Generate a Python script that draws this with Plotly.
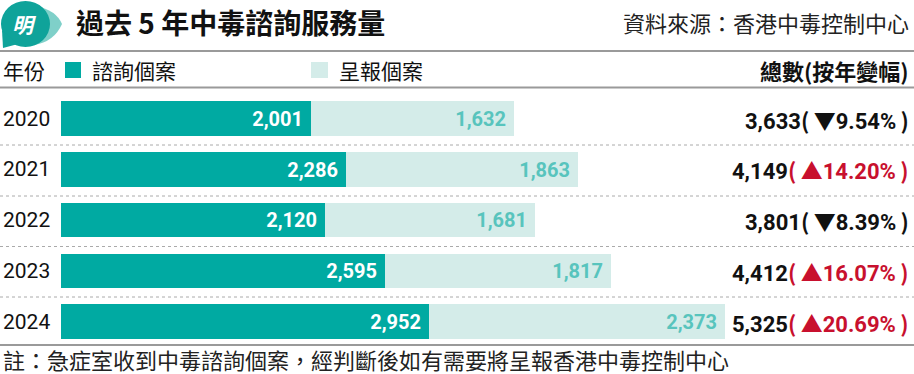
import plotly.graph_objects as go

years = ["2020", "2021", "2022", "2023", "2024"]
consult = [2001, 2286, 2120, 2595, 2952]
report = [1632, 1863, 1681, 1817, 2373]
totals = [3633, 4149, 3801, 4412, 5325]
changes = [-9.54, 14.20, -8.39, 16.07, 20.69]

title = "過去 5 年中毒諮詢服務量"
source = "資料來源：香港中毒控制中心"
legend_year = "年份"
legend_consult = "諮詢個案"
legend_report = "呈報個案"
header_total = "總數(按年變幅)"
footnote = "註：急症室收到中毒諮詢個案，經判斷後如有需要將呈報香港中毒控制中心"

TEAL = "#00aaa2"
LIGHT = "#d4ece9"
LIGHT_TXT = "#58c4bd"
RED = "#c8102e"
W, H = 914, 374
CJK = "Noto Sans CJK TC, Noto Sans CJK SC, sans-serif"
NUM = "Roboto, Arial, sans-serif"
PAD = "\u00a0"

def px(x):
    return x / W

def py(y):
    return 1 - y / H

ypos = list(range(len(years)))
pitch = 50.75
first_c = 118.5
y_top = -first_c / pitch
y_bot = (H - first_c) / pitch
scale = 453 / 3633.0
x_max = (W - 61) / scale

fig = go.Figure()
fig.add_trace(go.Bar(
    y=ypos, x=consult, orientation="h", marker=dict(color=TEAL, line=dict(width=0)),
    width=0.68, text=[f"{v:,}{PAD}" for v in consult], textposition="inside",
    insidetextanchor="end", textangle=0,
    textfont=dict(color="white", size=20, family=NUM, weight="bold"),
    cliponaxis=False, hoverinfo="skip", showlegend=False))
fig.add_trace(go.Bar(
    y=ypos, x=report, orientation="h", marker=dict(color=LIGHT, line=dict(width=0)),
    width=0.68, text=[f"{v:,}{PAD}" for v in report], textposition="inside",
    insidetextanchor="end", textangle=0,
    textfont=dict(color=LIGHT_TXT, size=20, family=NUM, weight="bold"),
    cliponaxis=False, hoverinfo="skip", showlegend=False))

anns = []
anns.append(dict(x=px(74), y=py(22), xref="paper", yref="paper", xanchor="left", yanchor="middle",
                 text=f"<b>{title}</b>", showarrow=False,
                 font=dict(size=28, family=CJK, color="#111")))
anns.append(dict(x=px(911), y=py(22), xref="paper", yref="paper", xanchor="right", yanchor="middle",
                 text=source, showarrow=False, font=dict(size=22, family=CJK, color="#222")))
anns.append(dict(x=px(24), y=py(24), xref="paper", yref="paper", xanchor="center", yanchor="middle",
                 text="<b><i>明</i></b>", showarrow=False, font=dict(size=21, family=CJK, color="white")))
anns.append(dict(x=px(1), y=py(70), xref="paper", yref="paper", xanchor="left", yanchor="middle",
                 text=legend_year, showarrow=False, font=dict(size=21, family=CJK, color="#111")))
anns.append(dict(x=px(90), y=py(70), xref="paper", yref="paper", xanchor="left", yanchor="middle",
                 text=legend_consult, showarrow=False, font=dict(size=21, family=CJK, color="#111")))
anns.append(dict(x=px(337), y=py(70), xref="paper", yref="paper", xanchor="left", yanchor="middle",
                 text=legend_report, showarrow=False, font=dict(size=21, family=CJK, color="#111")))
anns.append(dict(x=px(911), y=py(70), xref="paper", yref="paper", xanchor="right", yanchor="middle",
                 text=f"<b>{header_total}</b>", showarrow=False, font=dict(size=22, family=CJK, color="#111")))
anns.append(dict(x=px(1), y=py(359), xref="paper", yref="paper", xanchor="left", yanchor="middle",
                 text=footnote, showarrow=False, font=dict(size=22, family=CJK, color="#222")))

SYM = "font-family:Noto Sans CJK TC"
TS = "\u2009"
for i, yr in enumerate(years):
    anns.append(dict(x=px(1), y=ypos[i], xref="paper", yref="y", xanchor="left", yanchor="middle",
                     text=yr, showarrow=False, font=dict(size=21, family=NUM, color="#111")))
    ch = changes[i]
    col = "#111" if ch < 0 else RED
    tri = "▼" if ch < 0 else "▲"
    part = (f"<span style='color:{col}'><span style='{SYM}'>({TS}</span>"
            f"<span style='{SYM}'>{tri}</span>{abs(ch):.2f}%"
            f"<span style='{SYM}'>{TS})</span></span>")
    anns.append(dict(x=px(911), y=ypos[i], xref="paper", yref="y", xanchor="right", yanchor="middle",
                     text=f"<b>{totals[i]:,}{part}</b>", showarrow=False,
                     font=dict(size=22, family=NUM, color="#111")))

shapes = []
for yy in (51, 87.5, 345):
    shapes.append(dict(type="line", xref="paper", yref="paper", x0=0, x1=1, y0=py(yy), y1=py(yy),
                       line=dict(color="#9a9a9a", width=2)))
for yy in (145, 196, 246.5, 297):
    shapes.append(dict(type="line", xref="paper", yref="paper", x0=0, x1=1, y0=py(yy), y1=py(yy),
                       line=dict(color="#aaaaaa", width=1, dash="dot")))
shapes.append(dict(type="rect", xref="paper", yref="paper", x0=px(65), x1=px(81), y0=py(78), y1=py(62),
                   fillcolor=TEAL, line=dict(width=0)))
shapes.append(dict(type="rect", xref="paper", yref="paper", x0=px(311), x1=px(328), y0=py(78), y1=py(62),
                   fillcolor=LIGHT, line=dict(width=0)))
shapes.append(dict(type="path", xref="paper", yref="paper",
                   path=f"M {px(36)} {py(6)} Q {px(56)} {py(10)} {px(62)} {py(24)} "
                        f"Q {px(54)} {py(42)} {px(34)} {py(45)} Z",
                   fillcolor="#7fd0c9", line=dict(width=0)))
shapes.append(dict(type="circle", xref="paper", yref="paper", x0=px(1), x1=px(50), y0=py(47), y1=py(1),
                   fillcolor="#0fa39a", line=dict(width=0)))
shapes.append(dict(type="path", xref="paper", yref="paper",
                   path=f"M {px(2)} {py(30)} L {px(3)} {py(48)} L {px(18)} {py(44)} Z",
                   fillcolor="#0fa39a", line=dict(width=0)))

fig.update_layout(
    width=W, height=H, barmode="stack", bargap=0,
    margin=dict(l=0, r=0, t=0, b=0),
    paper_bgcolor="white", plot_bgcolor="white",
    xaxis=dict(domain=[61 / W, 1], range=[0, x_max], visible=False, fixedrange=True),
    yaxis=dict(domain=[0, 1], range=[y_bot, y_top], visible=False, fixedrange=True),
    annotations=anns, shapes=shapes,
    uniformtext=dict(minsize=10, mode="show"),
)
fig.write_html("out.html", config={"displayModeBar": False},
               post_script="document.body.style.margin='0';document.body.style.overflow='hidden';")
